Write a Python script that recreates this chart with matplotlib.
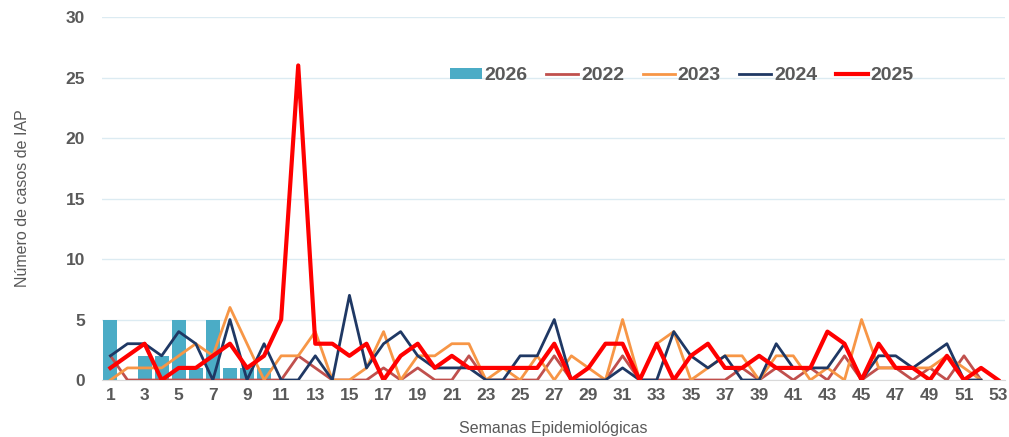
import matplotlib.pyplot as plt
import numpy as np

plt.rcParams['font.family'] = ['Liberation Sans', 'DejaVu Sans']

semanas = np.arange(1, 54)

# casos 2026 (barras, solo primeras semanas)
sem_2026 = np.arange(1, 11)
casos_2026 = [5, 0, 2, 2, 5, 1, 5, 1, 1, 1]

casos_2022 = [2, 0, 0, 0, 0, 0, 0, 0, 0, 0, 0, 2, 1, 0, 0, 0, 1, 0, 1, 0,
              0, 2, 0, 0, 0, 0, 2, 0, 0, 0, 2, 0, 0, 0, 0, 0, 0, 1, 0, 1,
              0, 1, 0, 2, 0, 1, 1, 0, 1, 0, 2, 0]
casos_2023 = [0, 1, 1, 1, 2, 3, 2, 6, 3, 0, 2, 2, 4, 0, 0, 1, 4, 0, 2, 2,
              3, 3, 0, 1, 0, 2, 0, 2, 1, 0, 5, 0, 3, 4, 0, 1, 2, 2, 0, 2,
              2, 0, 1, 0, 5, 1, 1, 1, 1, 2, 1, 0]
casos_2024 = [2, 3, 3, 2, 4, 3, 0, 5, 0, 3, 0, 0, 2, 0, 7, 1, 3, 4, 2, 1,
              1, 1, 0, 0, 2, 2, 5, 0, 0, 0, 1, 0, 0, 4, 2, 1, 2, 0, 0, 3,
              1, 1, 1, 3, 0, 2, 2, 1, 2, 3, 0, 0]
casos_2025 = [1, 2, 3, 0, 1, 1, 2, 3, 1, 2, 5, 26, 3, 3, 2, 3, 0, 2, 3, 1,
              2, 1, 1, 1, 1, 1, 3, 0, 1, 3, 3, 0, 3, 0, 2, 3, 1, 1, 2, 1,
              1, 1, 4, 3, 0, 3, 1, 1, 0, 2, 0, 1, 0]

gris = '#595959'

fig = plt.figure(figsize=(10.09, 4.37), dpi=100)
ax = fig.add_axes([0.101, 0.1304, 0.895, 0.8306])

b = ax.bar(sem_2026, casos_2026, width=0.82, color='#4BACC6', label='2026', zorder=2)
l1, = ax.plot(semanas[:52], casos_2022, color='#C0504D', lw=2.0, label='2022', zorder=3)
l2, = ax.plot(semanas[:52], casos_2023, color='#F79646', lw=2.0, label='2023', zorder=3)
l3, = ax.plot(semanas[:52], casos_2024, color='#1F3864', lw=2.0, label='2024', zorder=3)
l4, = ax.plot(semanas, casos_2025, color='#FF0000', lw=3.0, label='2025', zorder=4)

ax.set_xlim(0.5, 53.4)
ax.set_ylim(0, 30)
ax.set_yticks(range(0, 31, 5))
ax.set_xticks(range(1, 54, 2))
ax.grid(axis='y', color='#DCEBF2', lw=1, zorder=0)
for s in ['top', 'right', 'left']:
    ax.spines[s].set_visible(False)
ax.spines['bottom'].set_color('#D9D9D9')
ax.tick_params(length=0, labelsize=12.5, labelcolor=gris)
ax.tick_params(axis='x', pad=6)
ax.tick_params(axis='y', pad=12)
for lab in ax.get_xticklabels() + ax.get_yticklabels():
    lab.set_fontweight('bold')

ax.set_ylabel('Número de casos de IAP', fontsize=11.5, color=gris, labelpad=26)
ax.set_xlabel('Semanas Epidemiológicas', fontsize=11.5, color=gris, labelpad=13)

leg = ax.legend([b, l1, l2, l3, l4], ['2026', '2022', '2023', '2024', '2025'],
                loc='center left', bbox_to_anchor=(0.385, 0.838), ncol=5, frameon=False,
                borderaxespad=0, borderpad=0,
                prop={'weight': 'bold', 'size': 14}, handlelength=1.65,
                handleheight=0.55, handletextpad=0.15, columnspacing=0.95)
for t in leg.get_texts():
    t.set_color(gris)

fig.savefig('out.png', dpi=100)
